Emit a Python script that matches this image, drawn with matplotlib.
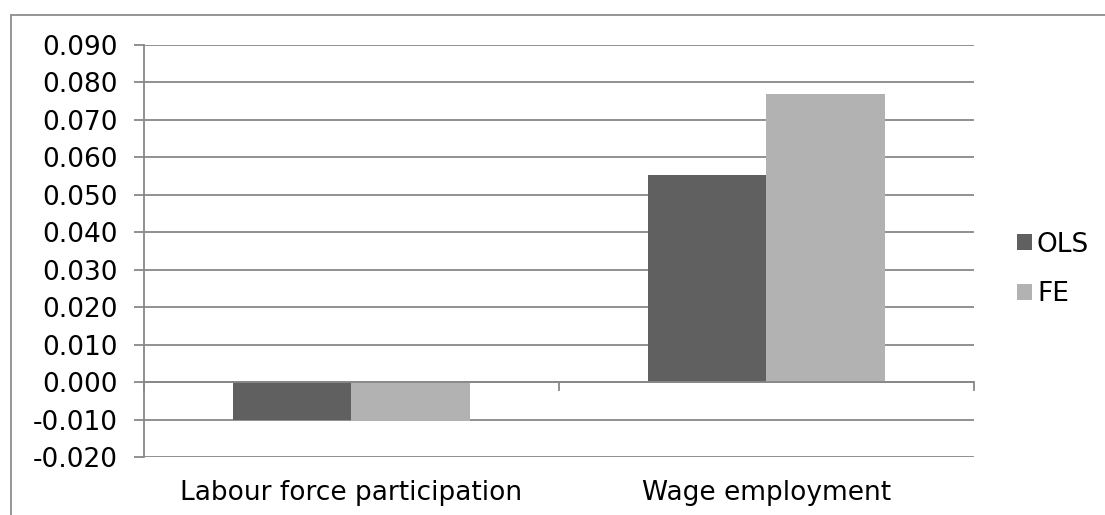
import numpy as np
import matplotlib.pyplot as plt
from matplotlib.patches import Rectangle

categories = ['Labour force participation', 'Wage employment']
ols = [-0.0100, 0.0552]
fe = [-0.0105, 0.0768]
series_names = ['OLS', 'FE']
yticks = np.arange(-0.02, 0.0901, 0.01)

grid_col = '#888888'
fs = 19

fig = plt.figure(figsize=(11.05, 5.15), dpi=100)
ax = fig.add_axes([0.1303, 0.1126, 0.7511, 0.8])

x = np.arange(len(categories))
w = 0.285
ax.bar(x - w / 2, ols, w, color='#606060', label=series_names[0], zorder=3)
ax.bar(x + w / 2, fe, w, color='#b2b2b2', label=series_names[1], zorder=3)

ax.set_xlim(-0.5, 1.5)
ax.set_ylim(-0.02, 0.09)
ax.set_yticks(yticks)
ax.set_yticklabels(['{:.3f}'.format(v) for v in yticks], fontsize=fs)
ax.tick_params(axis='y', length=7, width=1.3, color=grid_col, pad=12)
ax.yaxis.grid(True, color=grid_col, linewidth=1.3, zorder=0)

for s in ['top', 'right', 'bottom']:
    ax.spines[s].set_visible(False)
ax.spines['left'].set_color(grid_col)
ax.spines['left'].set_linewidth(1.3)

# category axis sits at zero, with ticks between groups
ax.axhline(0, color=grid_col, linewidth=1.3, zorder=4)
ax.set_xticks([])
for b in [-0.5, 0.5, 1.5]:
    ax.plot([b, b], [0, -0.002], color=grid_col, linewidth=1.3, clip_on=False, zorder=4)
for i, c in enumerate(categories):
    ax.text(i, -0.0295, c, ha='center', va='center', fontsize=fs)

ax.legend(loc='center left', bbox_to_anchor=(1.052, 0.455), frameon=False,
          fontsize=fs, handlelength=0.55, handleheight=0.55, handletextpad=0.2,
          labelspacing=0.9, borderpad=0, borderaxespad=0)

# outer chart border
fig.patches.append(Rectangle((11 / 1105, -0.1), 1.2, 1.1 - 15 / 515,
                             transform=fig.transFigure, fill=False,
                             edgecolor='#8c8c8c', linewidth=1.3))

fig.savefig('out.png', dpi=100, facecolor='white')
